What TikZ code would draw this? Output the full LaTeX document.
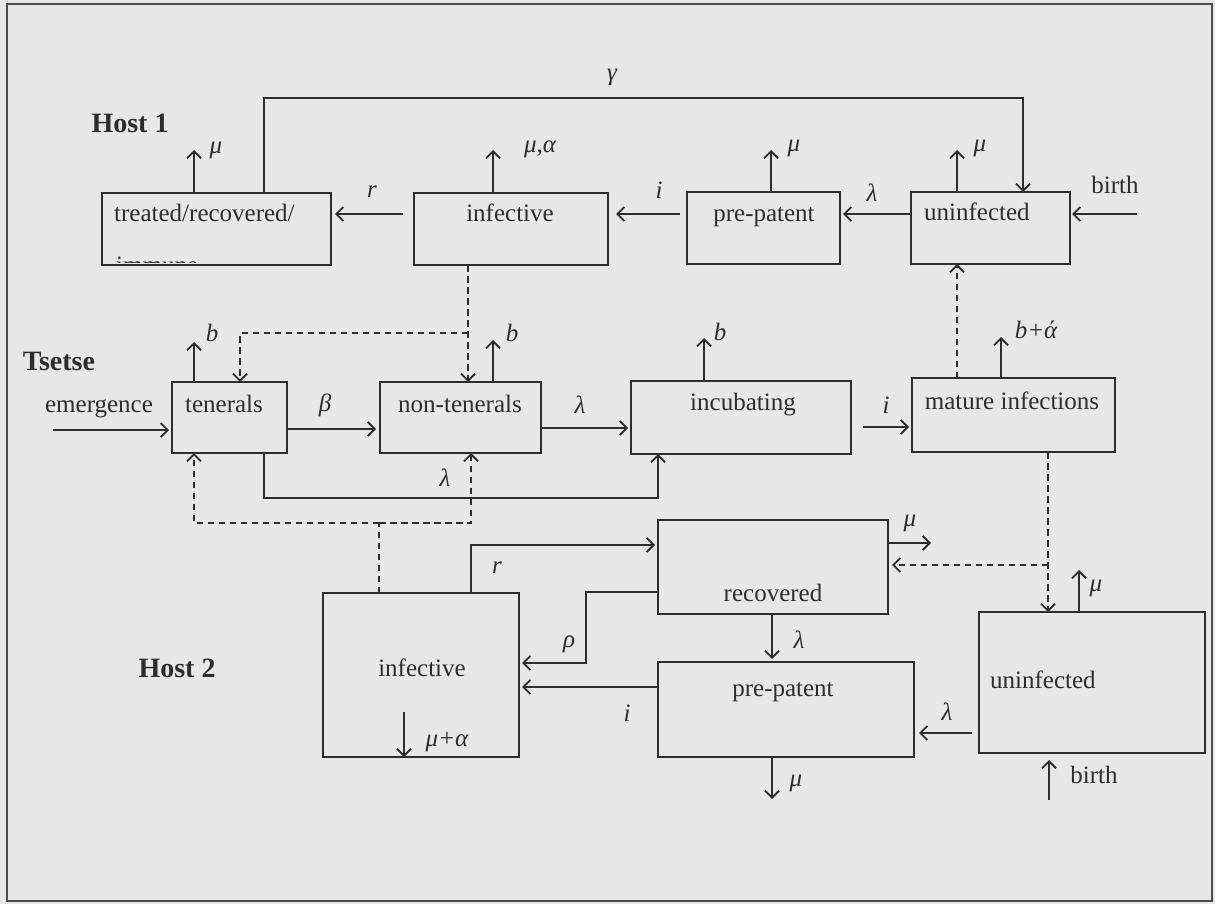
\documentclass[tikz,border=0pt]{standalone}
\usepackage{fontspec}
\setmainfont{Liberation Serif}
\usetikzlibrary{arrows.meta}
\definecolor{bg}{RGB}{231,231,231}
\definecolor{ink}{RGB}{45,45,45}
\newcommand\bxnode[5]{\node[box, anchor=north west, minimum width={(#4-#2)*1pt}, minimum height={(#5-#3)*1pt}] (#1) at (#2,#3) {};}
\begin{document}
\begin{tikzpicture}[x=1pt,y=-1pt,
  every node/.style={text=ink, font=\fontsize{25}{29}\selectfont, inner sep=0pt},
  box/.style={draw=ink, line width=2.2pt, inner sep=0pt, outer sep=0pt},
  tip/.tip={Straight Barb[length=7pt,width=14pt,line width=1.8pt]},
  ln/.style={draw=ink, line width=1.8pt},
  arr/.style={ln, -tip},
  dsh/.style={ln, dash pattern=on 6.5pt off 4.5pt},
  darr/.style={dsh, -tip},
  lbl/.style={font=\fontsize{25}{29}\selectfont\itshape},
  hdr/.style={font=\fontsize{28}{31}\selectfont\bfseries}]
\fill[bg] (0,0) rectangle (1215,904);
\useasboundingbox (0,0) rectangle (1215,904);
\draw[line width=2.5pt, ink!85] (7,4) rectangle (1212,901);

% ---------------- Host 1 ----------------
\node[hdr, anchor=base] (h1) at (130,133) {Host 1};
\bxnode{tr}{102}{193}{331}{265}
\node[anchor=base west] (trt) at (114,222) {treated/recovered/};
\begin{scope}
  \clip (103,245) rectangle (330,262);
  \node[anchor=base west] (trt2) at (116,273) {immune};
\end{scope}
\bxnode{inf1}{414}{193}{608}{265}
\node[anchor=base] (inf1t) at (510,222) {infective};
\bxnode{pp1}{687}{192}{840}{264}
\node[anchor=base] (pp1t) at (764,222) {pre-patent};
\bxnode{un1}{911}{192}{1070}{264}
\node[anchor=base west] (un1t) at (924,221) {uninfected};
\node[anchor=base] (birth1) at (1115,194) {birth};

\draw[arr] (tr.north -| 194,0) -- ++(0,-43);
\node[lbl] (mu1) at (216,150) {μ};
\draw[arr] (tr.north -| 264,0) -- (264,98) -- (1023,98) -- (un1.north -| 1023,0);
\node[lbl] (gam) at (612,77) {γ};
\draw[arr, shorten <=11pt, shorten >=4pt] (inf1.west |- 0,214) -- (tr.east |- 0,214);
\node[lbl] (r1) at (372,192) {r};
\draw[arr] (inf1.north -| 493,0) -- ++(0,-43);
\node[lbl] (mua1) at (540,149) {μ,α};
\draw[arr, shorten <=7pt, shorten >=8pt] (pp1.west |- 0,214) -- (inf1.east |- 0,214);
\node[lbl] (i1) at (659,190) {i};
\draw[arr] (pp1.north -| 771,0) -- ++(0,-42);
\node[lbl] (mu2) at (794,148) {μ};
\draw[arr, shorten <=1pt, shorten >=3pt] (un1.west |- 0,214) -- (pp1.east |- 0,214);
\node[lbl] (la1) at (872,193) {λ};
\draw[arr] (un1.north -| 957,0) -- ++(0,-42);
\node[lbl] (mu3) at (980,148) {μ};
\coordinate (b1s) at (1137,214);
\draw[arr, shorten >=2pt] (b1s) -- (un1.east |- b1s);

% ---------------- Tsetse ----------------
\node[hdr, anchor=base] (ts) at (59,370) {Tsetse};
\node[anchor=base] (em) at (99,412) {emergence};
\bxnode{ten}{172}{382}{287}{453}
\node[anchor=base] (tent) at (224,412) {tenerals};
\bxnode{nten}{380}{382}{541}{453}
\node[anchor=base] (ntent) at (460,412) {non-tenerals};
\bxnode{inc}{631}{381}{851}{454}
\node[anchor=base] (inct) at (743,410) {incubating};
\bxnode{mat}{912}{378}{1115}{452}
\node[anchor=base] (matt) at (1012,409) {mature infections};

\coordinate (ems) at (53,430);
\draw[arr, shorten >=3pt] (ems) -- (ten.west |- ems);
\draw[arr] (ten.north -| 194,0) -- ++(0,-40);
\node[lbl] (b1) at (212,333) {b};
\draw[arr] (nten.north -| 493,0) -- ++(0,-42);
\node[lbl] (b2) at (512,333) {b};
\draw[arr] (inc.north -| 704,0) -- ++(0,-43);
\node[lbl] (b3) at (720,332) {b};
\draw[arr] (mat.north -| 1001,0) -- ++(0,-41);
\node[lbl] (ba) at (1036,330) {b+ά};
\draw[arr, shorten >=4pt] (ten.east |- 0,429) -- (nten.west |- 0,429);
\node[lbl] (be) at (325,405) {β};
\draw[arr, shorten >=3pt] (nten.east |- 0,428) -- (inc.west |- 0,428);
\node[lbl] (la2) at (580,405) {λ};
\draw[arr, shorten <=12pt, shorten >=3pt] (inc.east |- 0,427) -- (mat.west |- 0,427);
\node[lbl] (i2) at (886,405) {i};
\draw[arr] (ten.south -| 264,0) -- (264,498) -- (658,498) -- (inc.south -| 658,0);
\node[lbl] (la3) at (445,478) {λ};

% dashed influences
\draw[darr] (inf1.south -| 468,0) -- (nten.north -| 468,0);
\draw[darr] (468,333) -- (240,333) -- (ten.north -| 240,0);
\draw[darr] (mat.north -| 957,0) -- (un1.south -| 957,0);

% ---------------- Host 2 ----------------
\node[hdr, anchor=base] (h2) at (177,677) {Host 2};
\bxnode{inf2}{323}{593}{519}{757}
\node[anchor=base] (inf2t) at (422,676) {infective};
\bxnode{rec}{658}{520}{888}{614}
\node[anchor=base] (rect) at (773,601) {recovered};
\bxnode{pp2}{658}{662}{914}{757}
\node[anchor=base] (pp2t) at (783,696) {pre-patent};
\bxnode{un2}{979}{612}{1205}{753}
\node[anchor=base west] (un2t) at (990,688) {uninfected};
\node[anchor=base] (birth2) at (1094,783) {birth};

\draw[dsh] (inf2.north -| 379,0) -- (379,523);
\draw[darr] (379,523) -- (194,523) -- (ten.south -| 194,0);
\draw[darr] (379,523) -- (471,523) -- (nten.south -| 471,0);
\draw[darr] (mat.south -| 1048,0) -- (un2.north -| 1048,0);
\draw[darr, shorten >=4pt] (1048,565) -- (rec.east |- 0,565);

\coordinate (mas) at (404,712);
\draw[arr] (mas) -- (inf2.south -| mas);
\node[lbl] (mua2) at (447,742) {μ+α};
\draw[arr, shorten >=3pt] (inf2.north -| 471,0) -- (471,545) -- (rec.west |- 0,545);
\node[lbl] (r2) at (497,568) {r};
\draw[arr, shorten >=3pt] (rec.west |- 0,592) -- (586,592) -- (586,663) -- (inf2.east |- 0,663);
\node[lbl] (rho) at (569,644) {ρ};
\draw[arr, shorten >=3pt] (pp2.west |- 0,687) -- (inf2.east |- 0,687);
\node[lbl] (i3) at (627,713) {i};
\draw[arr] (rec.east |- 0,543) -- (931,543);
\node[lbl] (mu4) at (910,523) {μ};
\draw[arr, shorten >=3pt] (rec.south -| 772,0) -- (pp2.north -| 772,0);
\node[lbl] (la4) at (799,640) {λ};
\draw[arr] (pp2.south -| 772,0) -- (772,799);
\node[lbl] (mu5) at (796,783) {μ};
\draw[arr, shorten <=7pt, shorten >=5pt] (un2.west |- 0,733) -- (pp2.east |- 0,733);
\node[lbl] (la5) at (947,712) {λ};
\draw[arr] (un2.north -| 1079,0) -- (1079,570);
\node[lbl] (mu6) at (1096,588) {μ};
\coordinate (b2s) at (1049,800);
\draw[arr, shorten >=7pt] (b2s) -- (un2.south -| b2s);
\end{tikzpicture}
\end{document}
